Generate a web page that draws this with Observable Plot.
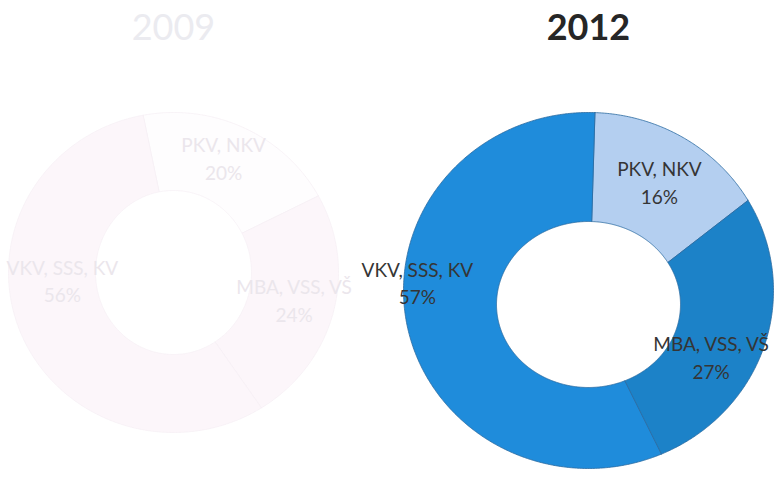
<!DOCTYPE html>
<html>
<head>
<meta charset="utf-8">
<script src="https://cdn.jsdelivr.net/npm/d3@7"></script>
<script src="https://cdn.jsdelivr.net/npm/@observablehq/plot@0.6"></script>
<style>
  html, body { margin: 0; padding: 0; background: #fff; }
  #wrap { position: relative; width: 774px; height: 479px; overflow: hidden; }
  #wrap > svg, #wrap > figure { position: absolute; left: 0; top: 0; margin: 0; }
</style>
</head>
<body>
<div id="wrap"></div>
<script>
// ---- data ----
const categories = ["PKV, NKV", "MBA, VSS, VŠ", "VKV, SSS, KV"];
const years = ["2009", "2012"];
const values2009 = [20, 24, 56];
const values2012 = [16, 27, 57];

const W = 774, H = 479;

// layout / style per chart (not data)
const layouts = {
  "2009": {
    values: values2009, cx: 173, cy: 272, rxo: 165, ryo: 160, rxi: 78, ryi: 82, hdy: 0,
    rotation: -10.6,
    colors: ["#fefdfe", "#fcf6fa", "#fcf6fa"], stroke: "#f6f0f5",
    textColor: "#ebe6ec", titleColor: "#ebebf0", titleWeight: "normal",
    nudges: [[-2, -6], [3, -4], [2, -37]]
  },
  "2012": {
    values: values2012, cx: 588, cy: 290, rxo: 185, ryo: 178, rxi: 92, ryi: 83, hdy: 14,
    rotation: 2,
    colors: ["#b4cff0", "#1c82c8", "#1f8cdb"], stroke: "#2a6a9f",
    textColor: "#353535", titleColor: "#262626", titleWeight: "bold",
    nudges: [[0, -4], [-9, 18], [-35, -40]]
  }
};

function slicePolygons(L) {
  const total = d3.sum(L.values);
  let acc = 0;
  const pts = [];
  const mids = [];
  L.values.forEach((v, i) => {
    const a0 = L.rotation + (acc / total) * 360;
    acc += v;
    const a1 = L.rotation + (acc / total) * 360;
    const n = Math.max(4, Math.ceil((a1 - a0) / 0.5));
    const key = categories[i];
    for (let k = 0; k <= n; k++) {
      const a = (a0 + (a1 - a0) * k / n) * Math.PI / 180;
      pts.push({key, x: L.rxo * Math.sin(a), y: -L.ryo * Math.cos(a)});
    }
    for (let k = n; k >= 0; k--) {
      const a = (a0 + (a1 - a0) * k / n) * Math.PI / 180;
      pts.push({key, x: L.rxi * Math.sin(a), y: L.hdy - L.ryi * Math.cos(a)});
    }
    const first = pts.find(p => p.key === key);
    pts.push({key, x: first.x, y: first.y});
    const am = ((a0 + a1) / 2) * Math.PI / 180;
    const rxm = (L.rxo + L.rxi) / 2, rym = (L.ryo + L.ryi) / 2;
    mids.push({key, value: v, x: rxm * Math.sin(am), y: L.hdy / 2 - rym * Math.cos(am)});
  });
  return {pts, mids};
}

const wrap = document.getElementById("wrap");

years.forEach(year => {
  const L = layouts[year];
  const {pts, mids} = slicePolygons(L);
  const labelMarks = mids.map((m, i) => Plot.text([m], {
    x: "x", y: "y",
    text: d => `${d.key}\n${d.value}%`,
    dx: L.nudges[i][0], dy: L.nudges[i][1],
    fill: L.textColor, fontSize: 19, lineHeight: 1.45,
    fontFamily: "Lato", textAnchor: "middle"
  }));
  const chart = Plot.plot({
    width: W, height: H, margin: 0,
    style: {background: "transparent", overflow: "visible"},
    x: {domain: [-L.cx, W - L.cx], range: [0, W], axis: null},
    y: {domain: [-L.cy, H - L.cy], range: [0, H], axis: null},
    color: {type: "ordinal", domain: categories, range: L.colors},
    marks: [
      Plot.line(pts, {x: "x", y: "y", z: "key", fill: "key", stroke: L.stroke, strokeWidth: 0.8, curve: "linear"}),
      ...labelMarks,
      Plot.text([year], {
        x: () => 0, frameAnchor: "top", dy: 28, text: d => d,
        fontSize: 36, fontWeight: L.titleWeight, fill: L.titleColor,
        fontFamily: "Lato", textAnchor: "middle", lineAnchor: "middle"
      })
    ]
  });
  wrap.appendChild(chart);
});
</script>
</body>
</html>
